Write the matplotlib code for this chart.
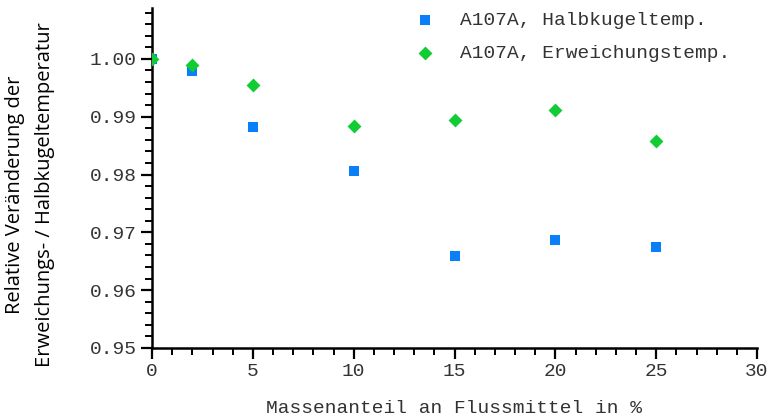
import matplotlib
matplotlib.use("Agg")
import matplotlib.pyplot as plt
from matplotlib.ticker import MultipleLocator

# Massenanteil Flussmittel in %
anteil = [0, 2, 5, 10, 15, 20, 25]

# relative Veraenderung
halbkugel = [1.000, 0.9979, 0.9882, 0.9806, 0.9659, 0.9687, 0.9675]
erweichung = [1.000, 0.9990, 0.9955, 0.9884, 0.9894, 0.9912, 0.9858]

labels = ["A107A, Halbkugeltemp.", "A107A, Erweichungstemp."]

mono = "Liberation Mono"
txtcol = "#333333"

fig = plt.figure(figsize=(7.74, 4.19), dpi=100)
ax = fig.add_axes([152 / 774, 71 / 419, 605 / 774, 340 / 419])

ax.scatter(anteil, halbkugel, marker="s", s=45, color="#0a7ffa", linewidths=0,
           label=labels[0], zorder=3)
ax.scatter(anteil, erweichung, marker="D", s=50, color="#11cc33", linewidths=0,
           label=labels[1], zorder=4)

ax.set_xlim(0, 30)
ax.set_ylim(0.95, 1.0088)
ax.xaxis.set_major_locator(MultipleLocator(5))
ax.xaxis.set_minor_locator(MultipleLocator(1))
ax.yaxis.set_major_locator(MultipleLocator(0.01))
ax.yaxis.set_minor_locator(MultipleLocator(0.002))
ax.yaxis.set_major_formatter(plt.FormatStrFormatter("%.2f"))

for s in ["top", "right"]:
    ax.spines[s].set_visible(False)
for s in ["left", "bottom"]:
    ax.spines[s].set_linewidth(1.8)
    ax.spines[s].set_color("black")

ax.tick_params(which="major", length=8, width=1.6, pad=3, labelsize=14, colors="black")
ax.tick_params(which="minor", length=5, width=1.4)
for lab in ax.get_xticklabels() + ax.get_yticklabels():
    lab.set_fontfamily(mono)
    lab.set_color(txtcol)

ax.set_xlabel("Massenanteil an Flussmittel in %", fontfamily=mono, fontsize=14,
              color=txtcol, labelpad=14)

fig.text(15 / 774, 0.535, "Relative Veränderung der", rotation=90,
         ha="center", va="center", fontfamily="Open Sans", fontsize=14.5)
fig.text(45 / 774, 0.535, "Erweichungs- / Halbkugeltemperatur", rotation=90,
         ha="center", va="center", fontfamily="Open Sans", fontsize=14.5)

leg = ax.legend(loc="upper left", bbox_to_anchor=(388 / 774, 1.015), bbox_transform=fig.transFigure,
                frameon=False, prop={"family": mono, "size": 14},
                handletextpad=0.8, labelspacing=0.8, scatterpoints=1)
for t in leg.get_texts():
    t.set_color(txtcol)

fig.savefig("out.png", dpi=100)
